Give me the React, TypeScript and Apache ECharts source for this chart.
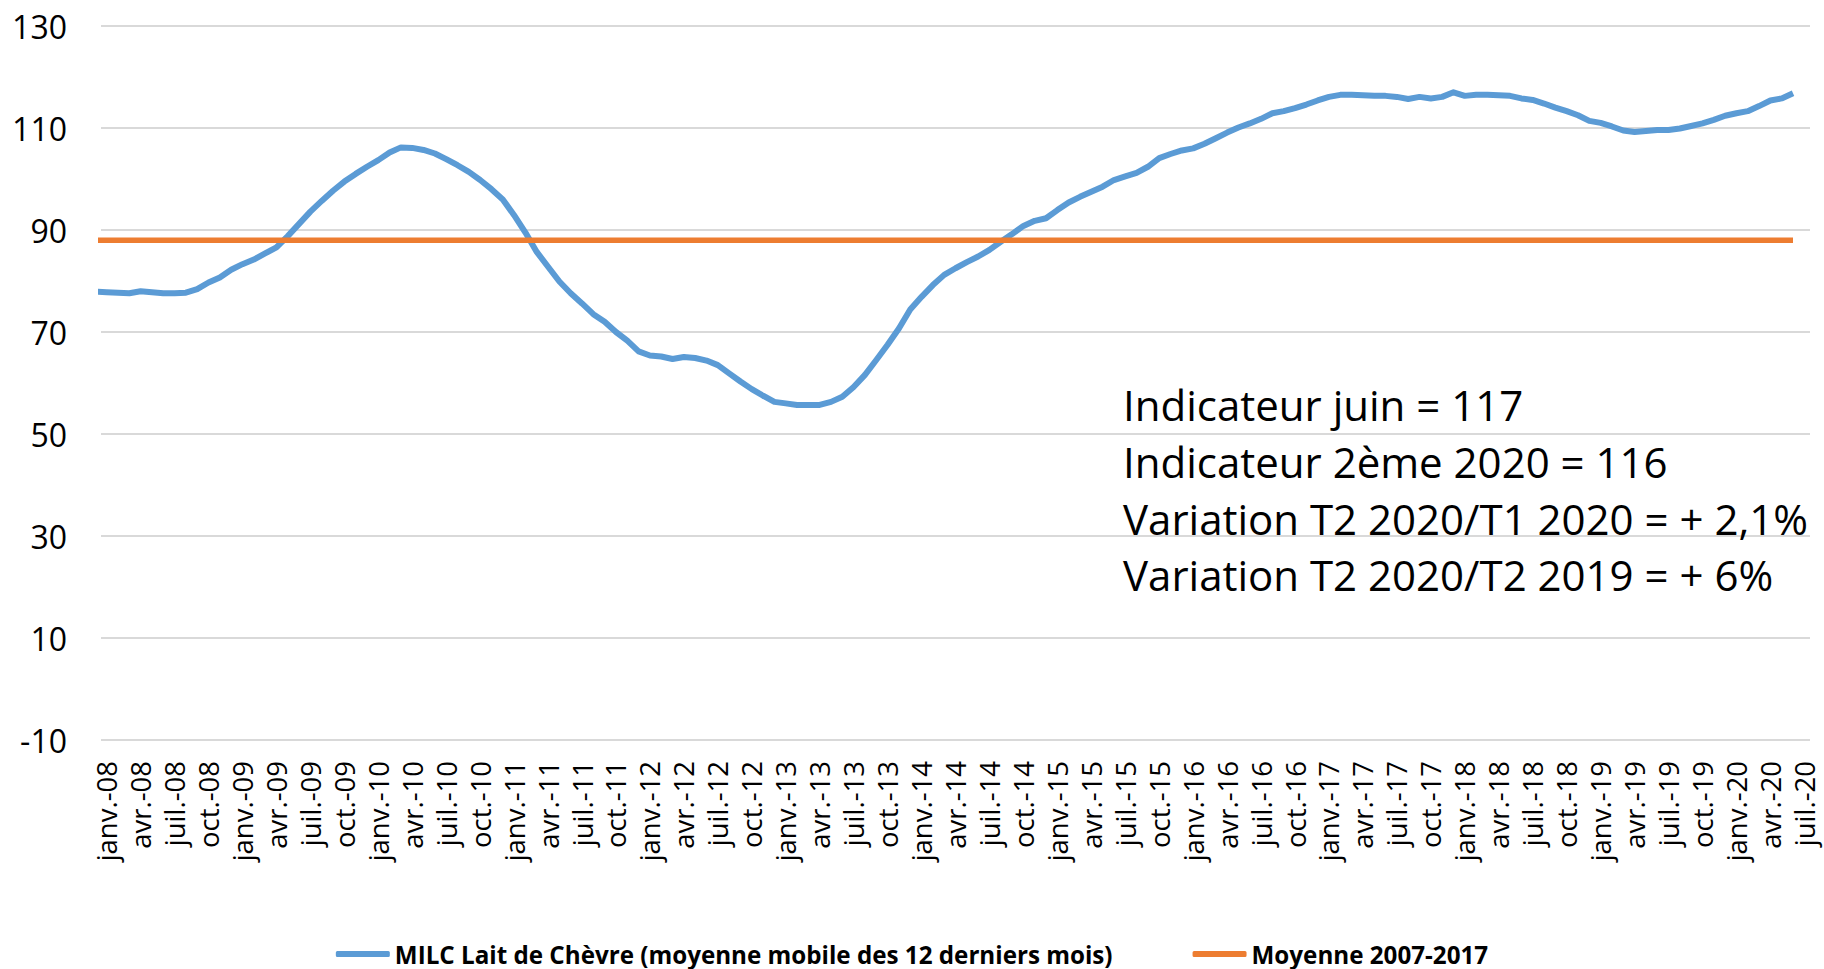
import React, { useEffect, useRef } from 'react';
import * as echarts from 'echarts';

const FONT = "'Open Sans', 'Noto Sans', sans-serif";

// Month names for category labels
const MONTHS = ['janv.', 'févr.', 'mars', 'avr.', 'mai', 'juin', 'juil.', 'août', 'sept.', 'oct.', 'nov.', 'déc.'];
const FIRST_YEAR = 2008;
const AXIS_MONTHS = 151; // janv.-08 .. juil.-20
const AXIS_CATEGORIES: string[] = Array.from({ length: AXIS_MONTHS }, (_, k) =>
  `${MONTHS[k % 12]}-${String((FIRST_YEAR + Math.floor(k / 12)) % 100).padStart(2, '0')}`
);

const Y_TICKS = [-10, 10, 30, 50, 70, 90, 110, 130];

// MILC Lait de Chèvre (moyenne mobile des 12 derniers mois)
const MILC_DEC_2007 = [77.9];
const MILC_2008 = [77.8, 77.7, 77.6, 78.0, 77.8, 77.6, 77.6, 77.7, 78.4, 79.7, 80.7, 82.2];
const MILC_2009 = [83.3, 84.2, 85.4, 86.6, 88.8, 91.2, 93.6, 95.7, 97.7, 99.5, 101.0, 102.4];
const MILC_2010 = [103.7, 105.2, 106.2, 106.1, 105.7, 105.0, 103.9, 102.7, 101.4, 99.8, 98.0, 96.0];
const MILC_2011 = [92.9, 89.5, 85.7, 82.8, 79.9, 77.6, 75.6, 73.5, 72.0, 70.0, 68.3, 66.2];
const MILC_2012 = [65.4, 65.2, 64.7, 65.1, 64.9, 64.4, 63.5, 61.9, 60.3, 58.8, 57.5, 56.3];
const MILC_2013 = [56.0, 55.7, 55.7, 55.7, 56.3, 57.3, 59.2, 61.6, 64.5, 67.5, 70.7, 74.4];
const MILC_2014 = [76.9, 79.2, 81.2, 82.5, 83.7, 84.8, 86.1, 87.7, 89.2, 90.8, 91.8, 92.3];
const MILC_2015 = [93.9, 95.4, 96.5, 97.5, 98.5, 99.8, 100.5, 101.2, 102.4, 104.1, 104.9, 105.6];
const MILC_2016 = [106.0, 106.9, 108.0, 109.1, 110.1, 110.9, 111.8, 112.9, 113.3, 113.9, 114.6, 115.4];
const MILC_2017 = [116.1, 116.5, 116.5, 116.4, 116.3, 116.3, 116.1, 115.7, 116.1, 115.8, 116.1, 117.0];
const MILC_2018 = [116.3, 116.5, 116.5, 116.4, 116.3, 115.8, 115.5, 114.8, 114.0, 113.3, 112.5, 111.4];
const MILC_2019 = [111.0, 110.3, 109.5, 109.2, 109.4, 109.6, 109.6, 109.9, 110.4, 110.9, 111.6, 112.4];
const MILC_2020 = [112.9, 113.3, 114.3, 115.4, 115.8, 116.8];

const MILC_VALUES = [
  ...MILC_DEC_2007, ...MILC_2008, ...MILC_2009, ...MILC_2010, ...MILC_2011, ...MILC_2012,
  ...MILC_2013, ...MILC_2014, ...MILC_2015, ...MILC_2016, ...MILC_2017, ...MILC_2018,
  ...MILC_2019, ...MILC_2020,
];

// Moyenne 2007-2017 (same value every month)
const MOYENNE_2007_2017 = 88;

const SERIES_NAMES = ['MILC Lait de Chèvre (moyenne mobile des 12 derniers mois)', 'Moyenne 2007-2017'];

const ANNOTATION_LINES = [
  'Indicateur juin = 117',
  'Indicateur 2ème 2020 = 116',
  'Variation T2 2020/T1 2020 = + 2,1%',
  'Variation T2 2020/T2 2019 = + 6%',
];

// month index: -1 = déc.-07, 0 = janv.-08, ...
const milcData = MILC_VALUES.map((v, k) => [k - 1, v]);
const moyenneData = MILC_VALUES.map((_, k) => [k - 1, MOYENNE_2007_2017]);

export default function App() {
  const ref = useRef<HTMLDivElement>(null);

  useEffect(() => {
    if (!ref.current) return;
    const chart = echarts.init(ref.current, null, { renderer: 'svg' });
    const option: any = {
      animation: false,
      backgroundColor: '#ffffff',
      grid: { left: 101, right: 14, top: 26, bottom: 229, containLabel: false, outerBoundsMode: 'none' },
      xAxis: [
        {
          type: 'category',
          data: AXIS_CATEGORIES,
          boundaryGap: true,
          axisLine: { show: true, onZero: true, lineStyle: { color: 'rgba(0,0,0,0)' } },
          axisTick: { show: false },
          splitLine: { show: false },
          axisLabel: {
            interval: 2,
            rotate: 90,
            margin: 21,
            fontSize: 27.5,
            lineHeight: 27,
            fontFamily: FONT,
            color: '#000000',
          },
        },
        {
          type: 'value',
          min: -0.5,
          max: AXIS_MONTHS - 0.5,
          show: false,
          axisLine: { onZero: false },
          splitLine: { show: false },
        },
      ],
      yAxis: {
        type: 'value',
        min: Y_TICKS[0],
        max: Y_TICKS[Y_TICKS.length - 1],
        interval: 20,
        axisLine: { show: false, onZero: false },
        axisTick: { show: false },
        axisLabel: { margin: 34, fontSize: 32, fontFamily: FONT, color: '#000000' },
        splitLine: { show: true, lineStyle: { color: '#d9d9d9', width: 2 } },
      },
      legend: {
        data: SERIES_NAMES,
        left: 'center',
        top: 936,
        icon: 'roundRect',
        itemWidth: 54,
        itemHeight: 6,
        itemGap: 80,
        selectedMode: false,
        textStyle: { fontFamily: FONT, fontWeight: 'bold', fontSize: 24.2, color: '#000000', lineHeight: 26 },
      },
      series: [
        {
          name: SERIES_NAMES[0],
          type: 'line',
          xAxisIndex: 1,
          data: milcData,
          showSymbol: false,
          symbol: 'none',
          color: '#5B9BD5',
          lineStyle: { color: '#5B9BD5', width: 6, join: 'round' },
          clip: true,
        },
        {
          name: SERIES_NAMES[1],
          type: 'line',
          xAxisIndex: 1,
          data: moyenneData,
          showSymbol: false,
          symbol: 'none',
          color: '#ED7D31',
          lineStyle: { color: '#ED7D31', width: 5.5 },
          clip: true,
        },
      ],
      graphic: ANNOTATION_LINES.map((t, k) => ({
        type: 'text',
        x: 1123,
        y: 404.5 + k * 56.8,
        z: 100,
        style: {
          text: t,
          fontSize: 42,
          fontFamily: FONT,
          fill: '#000000',
          align: 'left',
          verticalAlign: 'middle',
        },
      })),
    };
    chart.setOption(option);
    return () => chart.dispose();
  }, []);

  return (
    <div
      ref={ref}
      style={{ position: 'fixed', left: 0, top: 0, width: 1824, height: 969, background: '#ffffff' }}
    />
  );
}
